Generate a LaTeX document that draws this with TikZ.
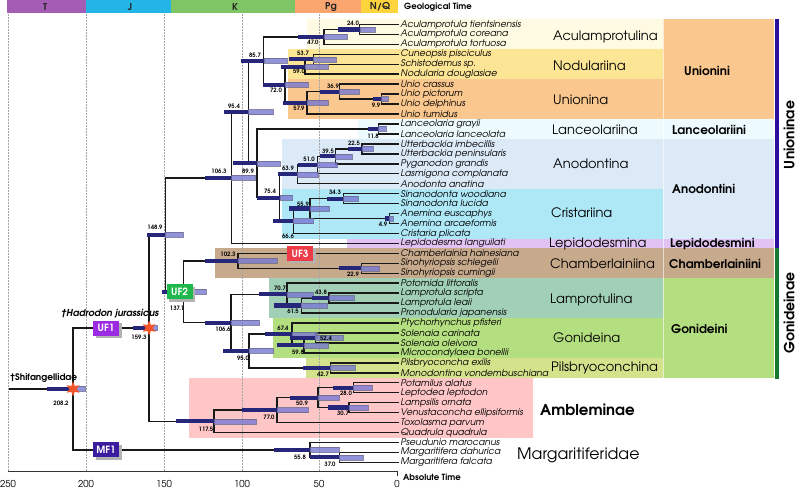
\documentclass[tikz,border=0pt]{standalone}
\usepackage{fontspec}
\setmainfont{texgyreadventor}[Extension=.otf, UprightFont=*-regular, ItalicFont=*-italic, BoldFont=*-bold, BoldItalicFont=*-bolditalic]
\usetikzlibrary{calc,shapes.geometric,shadows}
\definecolor{colT}{HTML}{A35DB5}
\definecolor{colJ}{HTML}{22B5E6}
\definecolor{colK}{HTML}{7FC465}
\definecolor{colPg}{HTML}{FBA56F}
\definecolor{colNQ}{HTML}{FDD43C}
\definecolor{acul}{HTML}{FFFBE2}
\definecolor{nod}{HTML}{FDE596}
\definecolor{unio}{HTML}{FAC78E}
\definecolor{lanc}{HTML}{EEFBFE}
\definecolor{anod}{HTML}{DCEAF8}
\definecolor{crist}{HTML}{AEE7F6}
\definecolor{lepi}{HTML}{E2C2F2}
\definecolor{chamb}{HTML}{C7A98C}
\definecolor{lamp}{HTML}{A1D0B6}
\definecolor{goni}{HTML}{B4DF80}
\definecolor{pils}{HTML}{D4E28B}
\definecolor{amble}{HTML}{FFC6C7}
\definecolor{ubar}{HTML}{2B0E9E}
\definecolor{gbar}{HTML}{17782F}
\definecolor{hpddark}{HTML}{26267A}
\definecolor{hpdlight}{HTML}{7878D4}
\definecolor{hpdedge}{HTML}{6A6A90}
\definecolor{starc}{HTML}{F2552A}
\definecolor{ufa}{HTML}{9A2BE2}
\definecolor{ufb}{HTML}{1FB84B}
\definecolor{ufc}{HTML}{EE3B4A}
\definecolor{mfa}{HTML}{3B1C9E}
\newcommand\clade[4]{%
  \path let \p1=(#3), \p2=(#4) in coordinate (#1) at ({(397-1.556*#2)*1pt},{0.5*(\y1+\y2)});
  \draw[branch] (#3) -| (#1) |- (#4);
}
\newcommand\hpd[3]{%
  \fill[hpddark] let \p1=(#1) in ({#2*1pt},{\y1-2.1pt}) rectangle (\x1,{\y1+2.1pt});
  \filldraw[fill=hpdlight, draw=hpdedge, line width=0.3pt, opacity=0.8] let \p1=(#1) in (\x1,{\y1-2.5pt}) rectangle ({#3*1pt},{\y1+2.5pt});
}
\begin{document}
\begin{tikzpicture}[x=1pt,y=-1pt,
  branch/.style={line width=1.5pt, draw=black!90, line cap=rect},
  tiplab/.style={anchor=west, inner sep=0pt, font=\fontsize{9.2}{9}\selectfont\itshape},
  sublab/.style={anchor=west, inner sep=0pt, font=\fontsize{13}{13}\selectfont},
  triblab/.style={anchor=west, inner sep=0pt, font=\fontsize{12}{12}\selectfont\bfseries},
  agelab/.style={inner sep=0pt, font=\fontsize{6}{6}\selectfont\bfseries},
  perlab/.style={inner sep=0pt, font=\fontsize{9.5}{9.5}\selectfont\bfseries, text=black!85},
  axlab/.style={inner sep=0pt, font=\fontsize{9.5}{9.5}\selectfont},
  gridl/.style={densely dotted, draw=gray!70, line width=0.5pt},
  uflab/.style={inner sep=1pt, minimum width=26pt, minimum height=15pt, text=white, font=\fontsize{10}{10}\selectfont\bfseries, drop shadow={shadow xshift=2.5pt, shadow yshift=-2.5pt, fill=black!30, opacity=1}},
  fstar/.style={star, star points=6, star point ratio=2.2, fill=starc, draw=none, minimum size=15pt, inner sep=0pt},
  sublabel/.style={inner sep=0pt, font=\fontsize{14}{14}\selectfont\bfseries, rotate=90}
]
\useasboundingbox (0,0) rectangle (800,489);
\fill[white] (0,0) rectangle (800,489);
% geological periods
\fill[colT] (7,0) rectangle (86,13);
\fill[colJ] (86,0) rectangle (171,13);
\fill[colK] (171,0) rectangle (295,13);
\fill[colPg] (295,0) rectangle (361,13);
\fill[colNQ] (361,0) rectangle (398,13);
\node[perlab] (pT) at (45,7) {T};
\node[perlab] (pJ) at (130,7) {J};
\node[perlab] (pK) at (235,7) {K};
\node[perlab] (pPg) at (331,7) {Pg};
\node[perlab] (pNQ) at (380,7) {N/Q};
\node[anchor=west, inner sep=0pt, font=\fontsize{8.5}{8.5}\selectfont\bfseries] (geo) at (404,7) {Geological Time};
% tribe boxes
\fill[unio] (663,19.5) rectangle (774,119.1);
\fill[lanc] (663,119.1) rectangle (774,139);
\fill[anod] (663,139) rectangle (774,238.5);
\fill[lepi] (663,238.5) rectangle (774,248.4);
\fill[chamb] (663,248.4) rectangle (774,278.3);
\fill[goni] (663,278.3) rectangle (774,377.8);
% subtribe boxes
\fill[acul] (307,19.5) rectangle (663,49.4);
\fill[nod] (288,49.4) rectangle (663,79.3);
\fill[unio] (288,79.3) rectangle (663,119.1);
\fill[lanc] (358,119.1) rectangle (663,139);
\fill[anod] (282,139) rectangle (663,188.7);
\fill[crist] (282,188.7) rectangle (663,238.5);
\fill[lepi] (347,238.5) rectangle (663,248.4);
\fill[chamb] (215,248.4) rectangle (663,278.3);
\fill[lamp] (269,278.3) rectangle (663,318.1);
\fill[goni] (273,318.1) rectangle (663,357.9);
\fill[pils] (306,357.9) rectangle (663,377.8);
\fill[amble] (189,377.8) rectangle (533,437.5);
\draw[white, opacity=0.6, line width=0.6pt] (663,19.5) -- (663,377.8);
% subfamily bars
\fill[ubar] (774.5,19.5) rectangle (778.5,248.4);
\fill[gbar] (774.5,248.4) rectangle (778.5,379);
% grid
\foreach \gx in {8,86,164,242,319} {\draw[gridl] (\gx,14) -- (\gx,471);}
% axis
\draw[line width=0.8pt, black!80] (8,471.7) -- (397,471.7) -- (397,476);
\foreach \gx/\gl in {8/250,86/200,164/150,242/100,319/50,397/0} {\node[axlab] (ax\gl) at (\gx,484) {\gl};}
\node[anchor=west, inner sep=0pt, font=\fontsize{8.5}{8.5}\selectfont\bfseries] (abst) at (403,477) {Absolute Time};
% tips
\foreach \i/\nm in {1/Aculamprotula tientsinensis,2/Aculamprotula coreana,3/Aculamprotula tortuosa,4/Cuneopsis pisciculus,5/Schistodemus sp.,6/Nodularia douglasiae,7/Unio crassus,8/Unio pictorum,9/Unio delphinus,10/Unio tumidus,11/Lanceolaria grayii,12/Lanceolaria lanceolata,13/Utterbackia imbecillis,14/Utterbackia peninsularis,15/Pyganodon grandis,16/Lasmigona complanata,17/Anodonta anatina,18/Sinanodonta woodiana,19/Sinanodonta lucida,20/Anemina euscaphys,21/Anemina arcaeformis,22/Cristaria plicata,23/Lepidodesma languilati,24/Chamberlainia hainesiana,25/Sinohyriopsis schlegelii,26/Sinohyriopsis cumingii,27/Potomida littoralis,28/Lamprotula scripta,29/Lamprotula leaii,30/Pronodularia japanensis,31/Ptychorhynchus pfisteri,32/Solenaia carinata,33/Solenaia oleivora,34/Microcondylaea bonellii,35/Pilsbryoconcha exilis,36/Monodontina vondembuschiana,37/Potamilus alatus,38/Leptodea leptodon,39/Lampsilis ornata,40/Venustaconcha ellipsiformis,41/Toxolasma parvum,42/Quadrula quadrula,43/Pseudunio marocanus,44/Margaritifera dahurica,45/Margaritifera falcata}
{\coordinate (t\i) at (398,{24.5+9.95*(\i-1)});
 \node[tiplab] (L\i) at (400.5,{24.5+9.95*(\i-1)}) {\nm};}
% tree
\clade{n24}{24.0}{t1}{t2}
\clade{n47}{47.0}{n24}{t3}
\clade{n537}{53.7}{t4}{t5}
\clade{n59}{59.0}{n537}{t6}
\clade{n99}{9.9}{t8}{t9}
\clade{n369}{36.9}{t7}{n99}
\clade{n579}{57.9}{n369}{t10}
\clade{n72}{72.0}{n59}{n579}
\clade{n857}{85.7}{n47}{n72}
\clade{n118}{11.8}{t11}{t12}
\clade{n225}{22.5}{t13}{t14}
\clade{n395}{39.5}{n225}{t15}
\clade{n51}{51.0}{n395}{t16}
\clade{n639}{63.9}{n51}{t17}
\clade{n343}{34.3}{t18}{t19}
\clade{n49}{4.9}{t20}{t21}
\clade{n559}{55.9}{n343}{n49}
\clade{n666}{66.6}{n559}{t22}
\clade{n754}{75.4}{n639}{n666}
\clade{n899}{89.9}{n118}{n754}
\clade{n954}{95.4}{n857}{n899}
\clade{n1063}{106.3}{n954}{t23}
\clade{n229}{22.9}{t25}{t26}
\clade{n1023}{102.3}{t24}{n229}
\clade{n438}{43.8}{t28}{t29}
\clade{n615}{61.5}{n438}{t30}
\clade{n707}{70.7}{t27}{n615}
\clade{n524}{52.4}{t32}{t33}
\clade{n598}{59.8}{n524}{t34}
\clade{n674}{67.4}{t31}{n598}
\clade{n427}{42.7}{t35}{t36}
\clade{n95}{95.0}{n674}{n427}
\clade{n1066}{106.6}{n707}{n95}
\clade{n1371}{137.1}{n1023}{n1066}
\clade{n1489}{148.9}{n1063}{n1371}
\clade{n280}{28.0}{t37}{t38}
\clade{n307}{30.7}{t39}{t40}
\clade{n509}{50.9}{n280}{n307}
\clade{n77}{77.0}{n509}{t41}
\clade{n1175}{117.5}{n77}{t42}
\clade{n1593}{159.3}{n1489}{n1175}
\clade{n370}{37.0}{t44}{t45}
\clade{n558}{55.8}{t43}{n370}
\clade{n2082}{208.2}{n1593}{n558}
\path let \p1=(n2082) in coordinate (rootend) at (10pt,\y1);
\draw[branch] (rootend) -- (n2082);
% HPD bars
\hpd{n24}{338}{375}
\hpd{n47}{298}{347}
\hpd{n537}{289}{336}
\hpd{n59}{281}{328}
\hpd{n857}{241}{287}
\hpd{n72}{263}{308}
\hpd{n369}{320}{359}
\hpd{n99}{373}{388}
\hpd{n579}{283}{328}
\hpd{n954}{224}{273}
\hpd{n118}{368}{386}
\hpd{n225}{348}{373}
\hpd{n395}{320}{352}
\hpd{n51}{298}{337}
\hpd{n639}{278}{318}
\hpd{n899}{233}{280}
\hpd{n1063}{205}{255}
\hpd{n754}{257}{292}
\hpd{n343}{327}{358}
\hpd{n559}{289}{329}
\hpd{n49}{385}{393}
\hpd{n666}{273}{313}
\hpd{n1489}{147}{183}
\hpd{n1593}{133}{157}
\hpd{n2082}{47}{85}
\hpd{n1023}{205}{277}
\hpd{n229}{339}{379}
\hpd{n1371}{162}{206}
\hpd{n707}{259}{313}
\hpd{n438}{312}{354}
\hpd{n615}{274}{327}
\hpd{n1066}{205}{259}
\hpd{n674}{265}{317}
\hpd{n524}{290}{343}
\hpd{n598}{277}{328}
\hpd{n95}{223}{273}
\hpd{n427}{303}{355}
\hpd{n280}{333}{372}
\hpd{n307}{328}{368}
\hpd{n509}{290}{339}
\hpd{n77}{242}{308}
\hpd{n1175}{176}{256}
\hpd{n558}{274}{339}
\hpd{n370}{310}{363}
% age labels
\node[agelab] (a24) at (353,23) {24.0};
\node[agelab] (a47) at (313,42.5) {47.0};
\node[agelab] (a537) at (303,53) {53.7};
\node[agelab] (a59) at (299,71.5) {59.0};
\node[agelab] (a857) at (255,55) {85.7};
\node[agelab] (a72) at (276,90) {72.0};
\node[agelab] (a369) at (333,86) {36.9};
\node[agelab] (a99) at (376,105) {9.9};
\node[agelab] (a579) at (299,108) {57.9};
\node[agelab] (a954) at (234,106.5) {95.4};
\node[agelab] (a118) at (373,136.5) {11.8};
\node[agelab] (a225) at (354,143) {22.5};
\node[agelab] (a395) at (328,151) {39.5};
\node[agelab] (a51) at (309,159) {51.0};
\node[agelab] (a639) at (288,168) {63.9};
\node[agelab] (a899) at (248,171) {89.9};
\node[agelab] (a1063) at (219,171) {106.3};
\node[agelab] (a754) at (270,191) {75.4};
\node[agelab] (a343) at (335,192) {34.3};
\node[agelab] (a559) at (303,204) {55.9};
\node[agelab] (a49) at (383,224) {4.9};
\node[agelab] (a666) at (288,236) {66.6};
\node[agelab] (a1489) at (155,227) {148.9};
\node[agelab] (a1023) at (228,254) {102.3};
\node[agelab] (a229) at (353,274) {22.9};
\node[agelab] (a1371) at (177,308) {137.1};
\node[agelab] (a707) at (280,288) {70.7};
\node[agelab] (a438) at (321,292) {43.8};
\node[agelab] (a615) at (293,311) {61.5};
\node[agelab] (a1066) at (223,329) {106.6};
\node[agelab] (a674) at (283,328) {67.4};
\node[agelab] (a524) at (326,338) {52.4};
\node[agelab] (a598) at (298,352) {59.8};
\node[agelab] (a95) at (243,358) {95.0};
\node[agelab] (a427) at (323,374) {42.7};
\node[agelab] (a280) at (346,393) {28.0};
\node[agelab] (a307) at (343,413) {30.7};
\node[agelab] (a509) at (302,403) {50.9};
\node[agelab] (a77) at (269,417) {77.0};
\node[agelab] (a1175) at (206,429) {117.5};
\node[agelab] (a558) at (300,457) {55.8};
\node[agelab] (a370) at (330,464) {37.0};
\node[agelab] (a1593) at (139,337) {159.3};
\node[agelab] (a2082) at (61,403) {208.2};
% fossils
\node[fstar] (s1) at (n1593) {};
\node[fstar] (s2) at (n2082) {};
\node[inner sep=0pt, font=\fontsize{9.5}{9.5}\selectfont\bfseries\itshape] (hadro) at (110,314) {†Hadrodon jurassicus};
\node[anchor=west, inner sep=0pt, font=\fontsize{9}{9}\selectfont\bfseries] (shif) at (10,378) {†Shifangellidae};
% clade labels
\node[uflab, fill=ufa] (uf1) at (106,328) {UF1};
\node[uflab, fill=ufb] (uf2) at (179.5,291.75) {UF2};
\node[uflab, fill=ufc] (uf3) at (300,253.35) {UF3};
\node[uflab, fill=mfa] (mf1) at (106,449.9) {MF1};
% group labels
\node[sublab] (g1) at (553,37) {Aculamprotulina};
\node[sublab] (g2) at (553,66) {Nodulariina};
\node[sublab] (g3) at (553,100) {Unionina};
\node[sublab] (g4) at (552,129.5) {Lanceolariina};
\node[sublab] (g5) at (553,164) {Anodontina};
\node[sublab] (g6) at (551,213) {Cristariina};
\node[sublab] (g7) at (549,244) {Lepidodesmina};
\node[sublab] (g8) at (550,264) {Chamberlainiina};
\node[sublab] (g9) at (550,300) {Lamprotulina};
\node[sublab] (g10) at (553,338) {Gonideina};
\node[sublab] (g11) at (551,368) {Pilsbryoconchina};
\node[triblab] (r1) at (684,71) {Unionini};
\node[triblab] (r2) at (672,129.5) {Lanceolariini};
\node[triblab] (r3) at (672,189) {Anodontini};
\node[triblab] (r4) at (670,244) {Lepidodesmini};
\node[triblab] (r5) at (669,264) {Chamberlainiini};
\node[triblab] (r6) at (671,329) {Gonideini};
\node[anchor=west, inner sep=0pt, font=\fontsize{15}{15}\selectfont\bfseries] (amb) at (540,410) {Ambleminae};
\node[anchor=west, inner sep=0pt, font=\fontsize{15.8}{15.8}\selectfont] (mar) at (517,455) {Margaritiferidae};
\node[sublabel] (sf1) at (789,135) {Unioninae};
\node[sublabel] (sf2) at (789,313) {Gonideinae};
\end{tikzpicture}
\end{document}
